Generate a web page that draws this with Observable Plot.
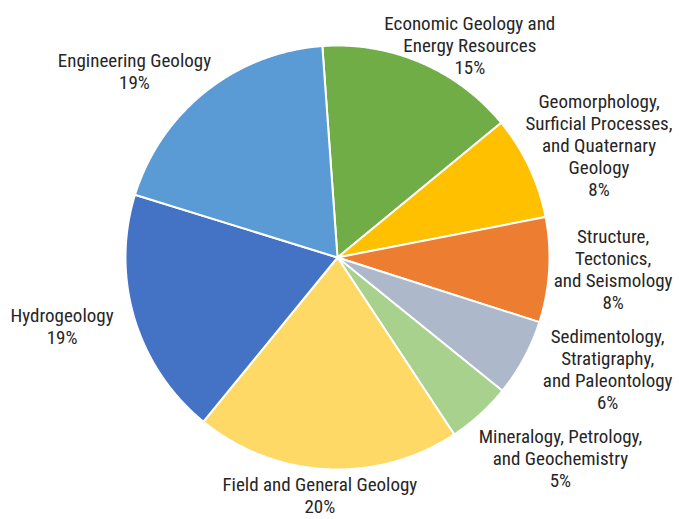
<!DOCTYPE html>
<html><head><meta charset="utf-8">
<script src="https://cdn.jsdelivr.net/npm/d3@7"></script>
<script src="https://cdn.jsdelivr.net/npm/@observablehq/plot@0.6"></script>
<style>body{margin:0;background:#fff}#chart svg{display:block}</style>
</head><body><div id="chart"></div>
<script>
// ---- data ----
const categories = [
  "Economic Geology and\nEnergy Resources",
  "Geomorphology,\nSurficial Processes,\nand Quaternary\nGeology",
  "Structure,\nTectonics,\nand Seismology",
  "Sedimentology,\nStratigraphy,\nand Paleontology",
  "Mineralogy, Petrology,\nand Geochemistry",
  "Field and General Geology",
  "Hydrogeology",
  "Engineering Geology"
];
const shares = [15.2, 7.9, 8.0, 5.9, 4.9, 20.2, 18.9, 19.1];
const sliceColors = ["#70AD47", "#FFC000", "#ED7D31", "#ADB9CA", "#A9D18E", "#FFD966", "#4472C4", "#5B9BD5"];

// ---- layout ----
const W = 679, H = 519, CX = 337, CY = 257, R = 212;
const startDeg = -4.1;
const LINE = 22;
const stretch = "condensed";

// font measurement
const ctx = document.createElement("canvas").getContext("2d");
function measure(s, size) {
  ctx.font = `${size}px Roboto`;
  if ("fontStretch" in ctx) ctx.fontStretch = stretch;
  return ctx.measureText(s).width;
}
const refW = measure("Economic Geology and", 16);
const fontSize = Math.max(13, Math.min(19, 16 * 171 / refW));

const pie = d3.pie().sort(null).value(d => d)
  .startAngle(startDeg * Math.PI / 180)
  .endAngle(startDeg * Math.PI / 180 + 2 * Math.PI)(shares);

const slicePts = [];
pie.forEach((a, i) => {
  const name = categories[i];
  slicePts.push({name, x: 0, y: 0});
  const n = Math.max(8, Math.ceil((a.endAngle - a.startAngle) / 0.005));
  for (let k = 0; k <= n; k++) {
    const t = a.startAngle + (a.endAngle - a.startAngle) * k / n;
    slicePts.push({name, x: Math.sin(t), y: Math.cos(t)});
  }
  slicePts.push({name, x: 0, y: 0});
});

// outside-end labels: placed beyond the arc along the mid-angle, kept inside the chart and apart
const A = 250, B = 216, PAD = 12;
const boxes = pie.map((a, i) => {
  const text = categories[i] + "\n" + Math.round(shares[i]) + "%";
  const lines = text.split("\n");
  const w = Math.max(...lines.map(l => measure(l, fontSize)));
  const h = lines.length * LINE;
  const m = (a.startAngle + a.endAngle) / 2;
  return {text, w, h, cx: CX + (A + w / 2) * Math.sin(m), cy: CY - (B + h / 2) * Math.cos(m)};
});
function clamp(b) {
  b.cx = Math.min(Math.max(b.cx, 10 + b.w / 2), W - 7 - b.w / 2);
  b.cy = Math.min(Math.max(b.cy, 11 + b.h / 2), H + 5 - b.h / 2);
}
boxes.forEach(clamp);
for (let it = 0; it < 60; it++) {
  for (let i = 0; i < boxes.length; i++) for (let j = i + 1; j < boxes.length; j++) {
    const p = boxes[i], q = boxes[j];
    if (Math.abs(p.cx - q.cx) >= (p.w + q.w) / 2) continue;
    const gap = Math.abs(p.cy - q.cy) - (p.h + q.h) / 2;
    if (gap >= PAD) continue;
    const s = (PAD - gap) / 2 * (p.cy <= q.cy ? 1 : -1);
    p.cy -= s; q.cy += s;
  }
  boxes.forEach(clamp);
}
const labels = boxes.map(b => ({text: b.text, x: (b.cx - CX) / R, y: (CY - b.cy) / R}));

const chart = Plot.plot({
  width: W, height: H,
  margin: 0,
  x: {axis: null, domain: [-CX / R, (W - CX) / R]},
  y: {axis: null, domain: [-(H - CY) / R, CY / R]},
  color: {type: "ordinal", domain: categories, range: sliceColors},
  style: `font-family: Roboto, sans-serif; font-stretch: ${stretch}; background: #fff;`,
  marks: [
    Plot.line(slicePts, {x: "x", y: "y", z: "name", fill: "name", stroke: "#fff", strokeWidth: 2, curve: "linear"}),
    Plot.text(labels, {x: "x", y: "y", text: "text", fontSize, lineHeight: LINE / fontSize, fill: "#262626", textAnchor: "middle", lineAnchor: "middle"})
  ]
});
document.getElementById("chart").append(chart);
</script>
</body></html>
